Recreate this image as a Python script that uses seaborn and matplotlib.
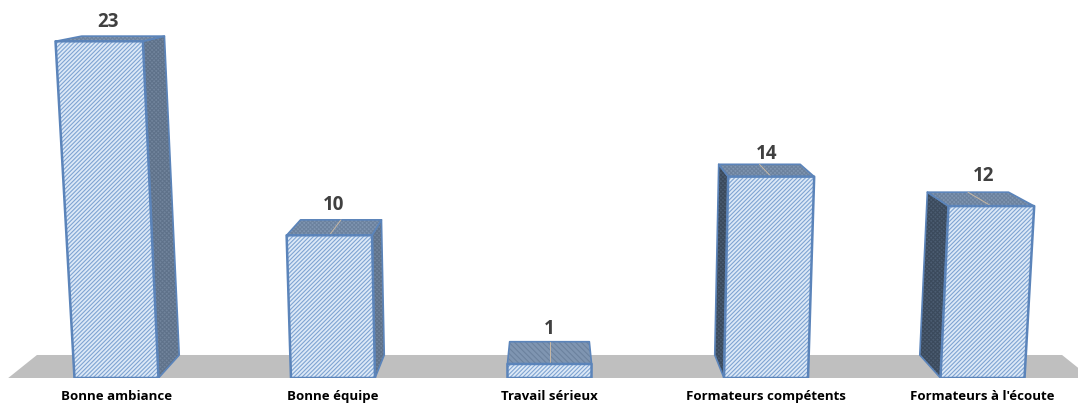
"""Pseudo-3D bar chart of what people liked about the training."""

import matplotlib

matplotlib.use("Agg")
import matplotlib.pyplot as plt
from matplotlib.patches import Polygon
import seaborn as sns

categories = [
    "Bonne ambiance",
    "Bonne équipe",
    "Travail sérieux",
    "Formateurs compétents",
    "Formateurs à l'écoute",
]
values = [23, 10, 1, 14, 12]

# hand-placed value labels, offset in points
label_offsets = [(-2, 12), (-1.5, 16.5), (0, 17), (0.7, 12.2), (3, 16.8)]

# one-point perspective settings, in data units
CENTER = 2.0
HORIZON = 31.0
DEPTH_SHRINK = 0.053
STRETCH = 0.0019
LEAN = 0.00166

EDGE = "#5b84ba"
FRONT = "#dde9f7"
TOP = "#7f95b1"
FLOOR = "#bfbfbf"


def project(x, value, depth=0.0):
    height = value / (1 - STRETCH * value)
    scale = 1 - DEPTH_SHRINK * depth
    new_x = CENTER + (x - CENTER) * (1 + LEAN * height) * scale
    new_y = HORIZON + (height - HORIZON) * scale
    return new_x, new_y


def add_face(ax, corners, face, hatch_color, hatch, zorder, edge_width=1.8):
    ax.add_patch(
        Polygon(corners, closed=True, facecolor=face, edgecolor=hatch_color,
                hatch=hatch, linewidth=0, zorder=zorder)
    )
    ax.add_patch(
        Polygon(corners, closed=True, facecolor="none", edgecolor=EDGE,
                linewidth=edge_width, joinstyle="round", zorder=zorder + 0.1)
    )


sns.set_theme(style="white")
plt.rcParams["font.family"] = ["Open Sans", "DejaVu Sans"]
plt.rcParams["hatch.linewidth"] = 0.8

fig = plt.figure(figsize=(10.78, 4.08), dpi=100)
ax = fig.add_axes([0, 30 / 408, 1, 378 / 408])
sns.barplot(x=categories, y=values, ax=ax, width=0.388)

ax.set_xlim(-0.538, 4.441)
ax.set_ylim(0, 27)
sns.despine(ax=ax, left=True, bottom=True)
ax.set_yticks([])
ax.set_xlabel("")
ax.set_ylabel("")
ax.tick_params(axis="x", length=0, pad=8.5)
for label in ax.get_xticklabels():
    label.set_fontsize(9.5)
    label.set_fontweight("bold")
    label.set_color("black")

# floor spans the category bands
floor = [project(-0.5, 0), project(4.5, 0), project(4.5, 0, 1), project(-0.5, 0, 1)]
ax.add_patch(Polygon(floor, closed=True, facecolor=FLOOR, edgecolor="none", zorder=1))

for bar, value, offset in zip(ax.containers[0], values, label_offsets):
    bar.set_visible(False)
    left = bar.get_x()
    right = left + bar.get_width()
    middle = (left + right) / 2

    # side face is the one turned toward the middle of the chart
    if middle < CENTER:
        side_x, side_face, side_hatch = right, "#71849c", "#5f728a"
    else:
        side_x, side_face, side_hatch = left, "#4b5c71", "#3b4a5c"
    if middle != CENTER:
        side = [project(side_x, 0), project(side_x, value),
                project(side_x, value, 1), project(side_x, 0, 1)]
        add_face(ax, side, side_face, side_hatch, "xxxxxxxx", 2, edge_width=1.2)

    # the shallow top of the smallest bar shows plain stripes
    top_hatch = "\\\\\\\\\\\\" if value == min(values) else "xxxxxxxx"
    top = [project(left, value), project(right, value),
           project(right, value, 1), project(left, value, 1)]
    add_face(ax, top, TOP, "#6c829e", top_hatch, 3, edge_width=1.2)

    # faint leader line across the top face
    if value != max(values):
        ax.plot(*zip(project(middle, value), project(middle, value, 1)),
                color="#c8b8a4", linewidth=0.7, zorder=3.5)

    front = [project(left, 0), project(right, 0),
             project(right, value), project(left, value)]
    add_face(ax, front, FRONT, "#7fa4d2", "////////", 4)

    ax.annotate(
        f"{value}",
        project(middle, value, 0.5),
        xytext=offset,
        textcoords="offset points",
        ha="center",
        va="center",
        fontsize=13.5,
        fontweight="bold",
        color="#404040",
        zorder=6,
    )

fig.savefig("out.png", dpi=100)
plt.close(fig)
